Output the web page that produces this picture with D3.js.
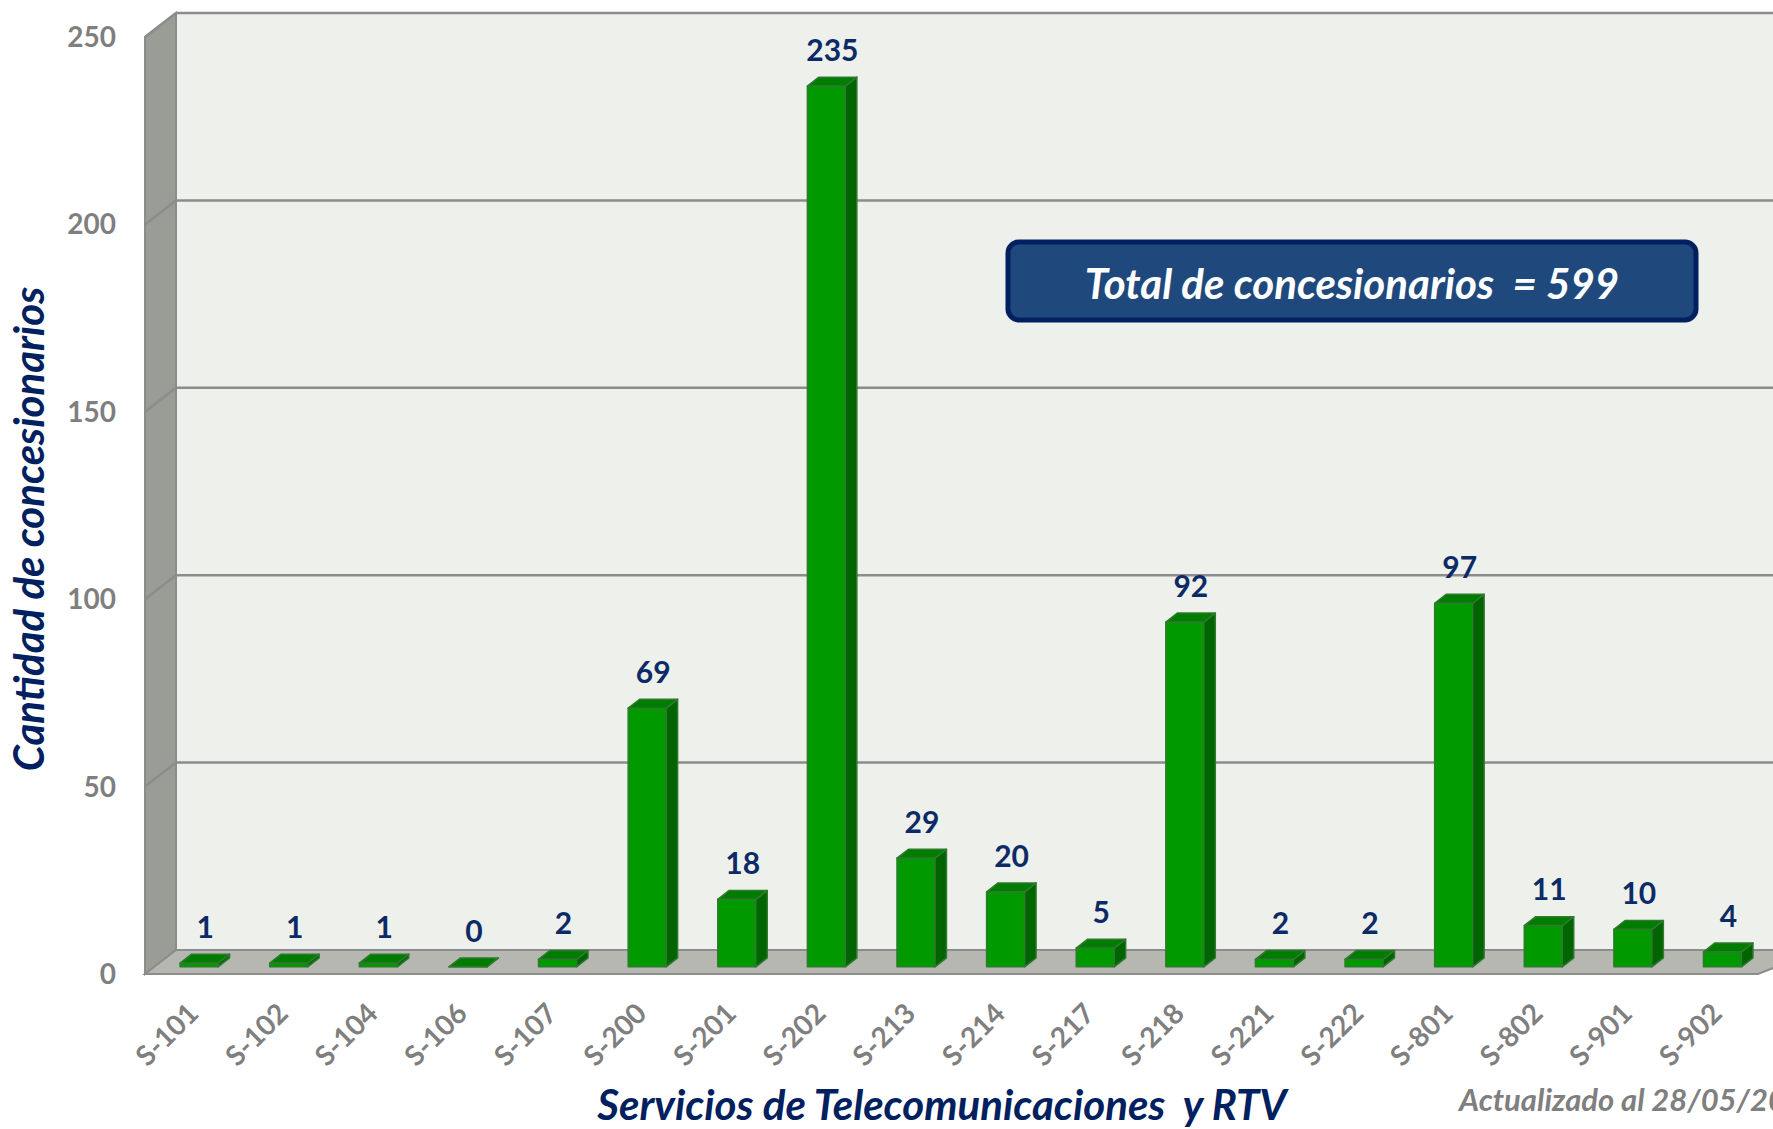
<!DOCTYPE html>
<head>
  <meta charset="utf-8">
  <script src="https://unpkg.com/d3@7/dist/d3.min.js"></script>
  <style>
    body {
      margin: 0;
      background: #fff;
    }
    text {
      font-family: Lato, "Open Sans", sans-serif;
      font-weight: bold;
    }
  </style>
</head>

<body>
  <svg width="1773" height="1129"></svg>
  <script>
    var categories = ["S-101", "S-102", "S-104", "S-106", "S-107", "S-200", "S-201", "S-202", "S-213",
                      "S-214", "S-217", "S-218", "S-221", "S-222", "S-801", "S-802", "S-901", "S-902"];
    var concesionarios = [1, 1, 1, 0, 2, 69, 18, 235, 29, 20, 5, 92, 2, 2, 97, 11, 10, 4];
    var yTicks = [0, 50, 100, 150, 200, 250];
    var totalText = "Total de concesionarios  = 599";
    var xTitle = "Servicios de Telecomunicaciones  y RTV";
    var yTitle = "Cantidad de concesionarios";
    var updated = "Actualizado al 28/05/2024";

    var svg = d3.select("svg");

    // 3D depth of the plot box (front -> back wall)
    var DX = 31, DY = -24;
    // bars sit between these depth fractions
    var f0 = 0.3, f1 = 0.67;

    var x = d3.scaleBand()
      .domain(categories)
      .range([145, 1758]);
    var y = d3.scaleLinear()
      .domain([0, 250])
      .range([974, 37]);

    var barW = 38;

    function pt(px, v, f) {
      return [px + f * DX, y(v) + f * DY];
    }
    function poly(points) {
      return points.map(function (p) { return p.join(","); }).join(" ");
    }

    var x0 = x.range()[0], x1 = x.range()[1];

    // back wall
    svg.append("polygon")
      .attr("points", poly([pt(x0, 250, 1), pt(x1 + 40, 250, 1), pt(x1 + 40, 0, 1), pt(x0, 0, 1)]))
      .attr("fill", "#eef1eb");

    // side wall
    svg.append("polygon")
      .attr("points", poly([pt(x0, 250, 0), pt(x0, 250, 1), pt(x0, 0, 1), pt(x0, 0, 0)]))
      .attr("fill", "#9a9c96")
      .attr("stroke", "#8c8c8c")
      .attr("stroke-width", 2);

    // floor
    svg.append("polygon")
      .attr("points", poly([pt(x0, 0, 0), pt(x0, 0, 1), pt(x1 + 31, 0, 1), pt(x1, 0, 0)]))
      .attr("fill", "#b5b7b0")
      .attr("stroke", "#8c8c8c")
      .attr("stroke-width", 2);

    // gridlines
    var grid = svg.append("g")
      .attr("fill", "none")
      .attr("stroke", "#8c8c8c")
      .attr("stroke-width", 2.5);
    yTicks.filter(function (d) { return d > 0; }).forEach(function (v) {
      grid.append("polyline")
        .attr("points", poly([pt(x0, v, 0), pt(x0, v, 1), pt(x1 + 40, v, 1)]));
    });

    // y tick labels
    svg.append("g").selectAll("text")
      .data(yTicks)
      .enter().append("text")
        .attr("x", 116)
        .attr("y", function (d) { return y(d); })
        .attr("dy", "0.36em")
        .attr("text-anchor", "end")
        .attr("font-size", 28)
        .attr("fill", "#7f7f7f")
        .text(function (d) { return d; });

    // bars
    var bars = svg.append("g").selectAll("g")
      .data(categories)
      .enter().append("g")
        .attr("stroke", "#2f7a2f")
        .attr("stroke-width", 1.5)
        .attr("stroke-linejoin", "round");

    // left edge of a bar before depth shift
    function left(c) { return x(c) + x.bandwidth() / 2 - barW / 2; }
    function labelX(c) { return left(c) + f0 * DX + barW / 2 + 6; }

    bars.append("polygon")
      .attr("fill", "#009900")
      .attr("points", function (c, i) {
        var l = left(c), v = concesionarios[i];
        return poly([pt(l, v, f0), pt(l + barW, v, f0), pt(l + barW, 0, f0), pt(l, 0, f0)]);
      });
    bars.append("polygon")
      .attr("fill", "#006400")
      .attr("points", function (c, i) {
        var l = left(c) + barW, v = concesionarios[i];
        return poly([pt(l, v, f0), pt(l, v, f1), pt(l, 0, f1), pt(l, 0, f0)]);
      });
    bars.append("polygon")
      .attr("fill", "#007c00")
      .attr("points", function (c, i) {
        var l = left(c), v = concesionarios[i];
        return poly([pt(l, v, f0), pt(l, v, f1), pt(l + barW, v, f1), pt(l + barW, v, f0)]);
      });

    // value labels
    svg.append("g").selectAll("text")
      .data(categories)
      .enter().append("text")
        .attr("x", labelX)
        .attr("y", function (c, i) { return y(concesionarios[i]) + f0 * DY - 36; })
        .attr("dy", "0.36em")
        .attr("text-anchor", "middle")
        .attr("font-size", 30)
        .attr("fill", "#0c2a66")
        .text(function (c, i) { return concesionarios[i]; });

    // category labels
    svg.append("g").selectAll("text")
      .data(categories)
      .enter().append("text")
        .attr("transform", function (c) {
          return "translate(" + (labelX(c) - 12) + ",1008) rotate(-45)";
        })
        .attr("dy", "0.36em")
        .attr("text-anchor", "end")
        .attr("font-size", 28)
        .attr("fill", "#7f7f7f")
        .text(function (c) { return c; });

    // total box
    svg.append("rect")
      .attr("x", 1008)
      .attr("y", 242)
      .attr("width", 688)
      .attr("height", 78)
      .attr("rx", 11)
      .attr("fill", "#1f497d")
      .attr("stroke", "#002060")
      .attr("stroke-width", 5);
    svg.append("text")
      .attr("x", 1352)
      .attr("y", 284)
      .attr("dy", "0.36em")
      .attr("text-anchor", "middle")
      .attr("font-size", 42)
      .attr("font-style", "italic")
      .attr("fill", "#fff")
      .attr("xml:space", "preserve")
      .text(totalText);

    // axis titles
    svg.append("text")
      .attr("x", 942)
      .attr("y", 1120)
      .attr("text-anchor", "middle")
      .attr("font-size", 42)
      .attr("font-style", "italic")
      .attr("fill", "#002060")
      .attr("xml:space", "preserve")
      .text(xTitle);
    svg.append("text")
      .attr("transform", "translate(44,529) rotate(-90)")
      .attr("text-anchor", "middle")
      .attr("font-size", 42)
      .attr("font-style", "italic")
      .attr("fill", "#002060")
      .text(yTitle);

    svg.append("text")
      .attr("x", 1459)
      .attr("y", 1111)
      .attr("font-size", 31)
      .attr("font-style", "italic")
      .attr("fill", "#7f7f7f")
      .text(updated);
  </script>
</body>
